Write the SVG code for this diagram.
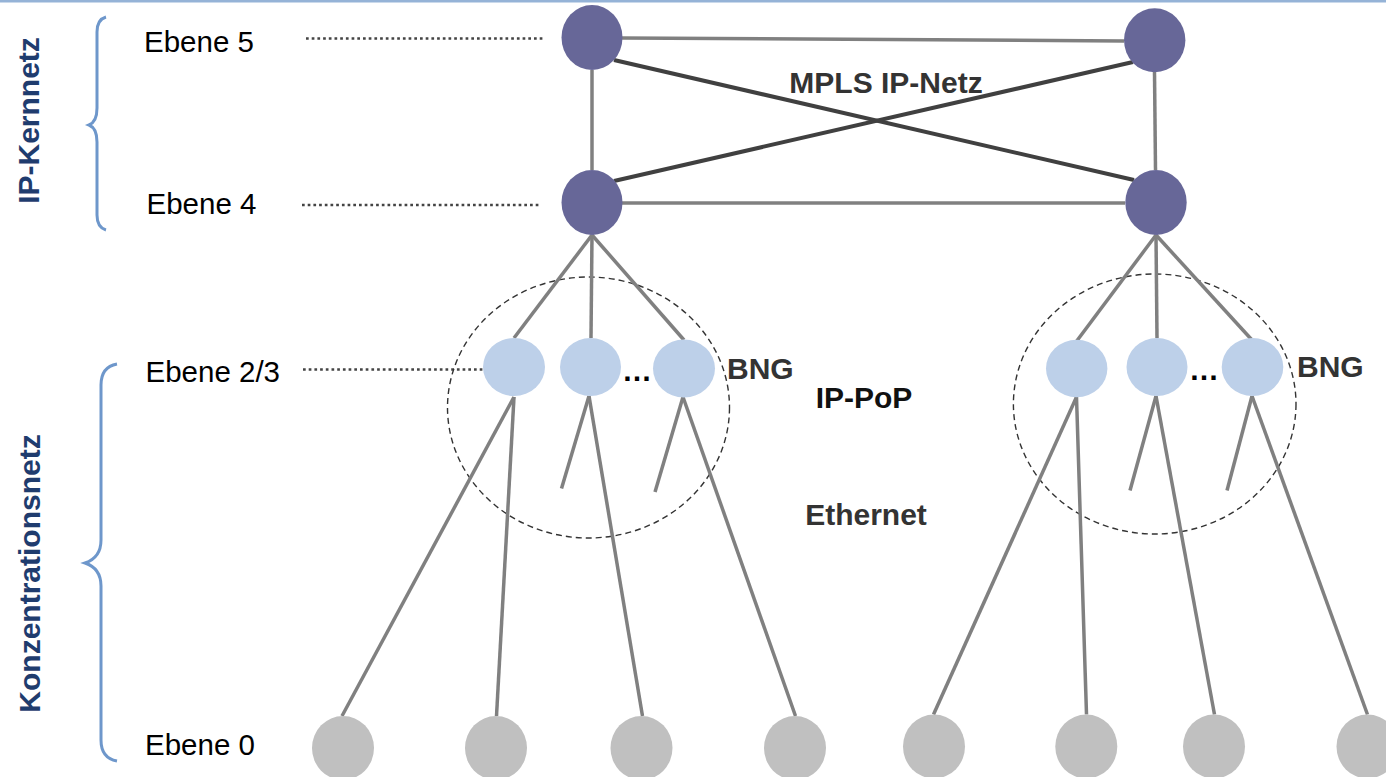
<svg xmlns="http://www.w3.org/2000/svg" width="1386" height="777" viewBox="0 0 1386 777">
  <style>
    .lbl { font-family: "Liberation Sans", Arial, sans-serif; font-size: 29.5px; fill: #000; }
    .bold { font-family: "Liberation Sans", Arial, sans-serif; font-size: 30px; font-weight: bold; fill: #333; }
    .side { font-family: "Liberation Sans", Arial, sans-serif; font-size: 30px; font-weight: bold; fill: #1F3C6E; }
    .brace { fill: none; stroke: #6E97CB; stroke-width: 3; }
    .lead { stroke: #444; stroke-width: 2.5; stroke-dasharray: 2.7 3; }
    .link { stroke: #808080; stroke-width: 3.5; stroke-linecap: butt; }
    .core { stroke: #404040; stroke-width: 4; }
    .pop { fill: none; stroke: #333; stroke-width: 1.4; stroke-dasharray: 6 4; }
    .r5 { fill: #676798; }
    .bng { fill: #BDD0E9; }
    .acc { fill: #C0C0C0; }
  </style>

  <!-- header rule -->
  <rect x="0" y="0" width="1386" height="2.5" fill="#95B3D7"/>

  <!-- layer braces and side labels -->
  <g id="brace-core">
    <path class="brace" d="M106,17 C99,19 97,24 97,32 L97,108 C97,118 94,123 89,125 C94,127 97,132 97,142 L97,215 C97,223 99,228 106,230"/>
    <text class="side" text-anchor="middle" transform="translate(39,120.5) rotate(-90)">IP-Kernnetz</text>
  </g>
  <g id="brace-concentration">
    <path class="brace" d="M117,364 C106,366 101,373 101,385 L101,540 C101,553 94,560 85,563 C94,566 101,573 101,586 L101,740 C101,752 106,759 117,761"/>
    <text class="side" text-anchor="middle" transform="translate(40,573.5) rotate(-90)">Konzentrationsnetz</text>
  </g>

  <!-- layer labels with leader lines -->
  <g id="level-labels">
    <text class="lbl" x="144" y="52">Ebene 5</text>
    <text class="lbl" x="146.5" y="214">Ebene 4</text>
    <text class="lbl" x="145.5" y="382">Ebene 2/3</text>
    <text class="lbl" x="145" y="755">Ebene 0</text>
    <line class="lead" x1="306" y1="38.5" x2="545" y2="38.5"/>
    <line class="lead" x1="302" y1="205" x2="541" y2="205"/>
    <line class="lead" x1="303" y1="369.5" x2="483" y2="369.5"/>
  </g>

  <!-- PoP boundaries -->
  <g id="pop-left"><ellipse class="pop" cx="588.5" cy="407.5" rx="141" ry="130.5"/></g>
  <g id="pop-right"><ellipse class="pop" cx="1154.7" cy="404" rx="141.3" ry="130"/></g>

  <!-- connectors -->
  <g id="connectors">
    <!-- core mesh -->
    <line class="link" x1="622" y1="38" x2="1124" y2="41"/>
    <line class="link" x1="622" y1="203" x2="1125" y2="203"/>
    <line class="link" x1="592" y1="70" x2="592" y2="170"/>
    <line class="link" x1="1154.5" y1="72" x2="1155.5" y2="170"/>
    <line class="core" x1="614" y1="60" x2="1134" y2="180"/>
    <line class="core" x1="614" y1="181" x2="1133" y2="62"/>
    <!-- core to BNG, left -->
    <line class="link" x1="592" y1="235" x2="514" y2="338"/>
    <line class="link" x1="592" y1="235" x2="591" y2="338"/>
    <line class="link" x1="592" y1="235" x2="684" y2="340"/>
    <!-- core to BNG, right -->
    <line class="link" x1="1156" y1="235" x2="1076" y2="342"/>
    <line class="link" x1="1156" y1="235" x2="1157" y2="338"/>
    <line class="link" x1="1156" y1="235" x2="1252" y2="340"/>
    <!-- BNG to access, left -->
    <line class="link" x1="514" y1="397" x2="342" y2="716"/>
    <line class="link" x1="514" y1="397" x2="496.5" y2="716"/>
    <line class="link" x1="589" y1="396" x2="561.5" y2="488.5"/>
    <line class="link" x1="589" y1="396" x2="642.5" y2="716"/>
    <line class="link" x1="683" y1="397" x2="655" y2="492"/>
    <line class="link" x1="683" y1="397" x2="795.5" y2="716"/>
    <!-- BNG to access, right -->
    <line class="link" x1="1076.5" y1="397" x2="933.5" y2="714.5"/>
    <line class="link" x1="1076.5" y1="397" x2="1086.5" y2="714.5"/>
    <line class="link" x1="1156" y1="396" x2="1130" y2="490.5"/>
    <line class="link" x1="1156" y1="396" x2="1214.5" y2="714.5"/>
    <line class="link" x1="1252" y1="396" x2="1227" y2="490.5"/>
    <line class="link" x1="1252" y1="396" x2="1367.5" y2="714.5"/>
  </g>

  <!-- level 5 / level 4 routers -->
  <g id="core-l5-a"><ellipse class="r5" cx="592" cy="37.5" rx="30.5" ry="32.5"/></g>
  <g id="core-l5-b"><ellipse class="r5" cx="1154.7" cy="40.3" rx="30.7" ry="32"/></g>
  <g id="core-l4-a"><ellipse class="r5" cx="592" cy="202.5" rx="30.5" ry="32.5"/></g>
  <g id="core-l4-b"><ellipse class="r5" cx="1156" cy="202.5" rx="30.7" ry="32.5"/></g>
  <g id="mpls-label"><text class="bold" x="886" y="93" text-anchor="middle">MPLS IP-Netz</text></g>

  <!-- BNGs, left PoP -->
  <g id="bng-l1"><ellipse class="bng" cx="514" cy="367" rx="31" ry="29"/></g>
  <g id="bng-l2"><ellipse class="bng" cx="590.5" cy="367" rx="30.5" ry="29"/></g>
  <g id="bng-l3"><ellipse class="bng" cx="684" cy="368.5" rx="31" ry="29"/></g>
  <text class="bold" x="622" y="381" style="fill:#000">…</text>
  <text class="bold" x="727" y="379">BNG</text>

  <!-- BNGs, right PoP -->
  <g id="bng-r1"><ellipse class="bng" cx="1076.7" cy="368.5" rx="30.7" ry="28.7"/></g>
  <g id="bng-r2"><ellipse class="bng" cx="1157" cy="367" rx="30.5" ry="29"/></g>
  <g id="bng-r3"><ellipse class="bng" cx="1252.5" cy="367" rx="30.8" ry="29"/></g>
  <text class="bold" x="1189" y="380" style="fill:#000">…</text>
  <text class="bold" x="1297" y="377">BNG</text>

  <g id="pop-labels">
    <text class="bold" x="864" y="408" text-anchor="middle" style="fill:#111">IP-PoP</text>
    <text class="bold" x="866" y="525" text-anchor="middle">Ethernet</text>
  </g>

  <!-- level 0 access nodes -->
  <g id="acc-1"><ellipse class="acc" cx="343" cy="748" rx="31" ry="32"/></g>
  <g id="acc-2"><ellipse class="acc" cx="496" cy="748" rx="31" ry="32"/></g>
  <g id="acc-3"><ellipse class="acc" cx="641.5" cy="748" rx="31" ry="32"/></g>
  <g id="acc-4"><ellipse class="acc" cx="795" cy="748" rx="31" ry="32"/></g>
  <g id="acc-5"><ellipse class="acc" cx="934" cy="746.5" rx="31" ry="32"/></g>
  <g id="acc-6"><ellipse class="acc" cx="1086.3" cy="746.5" rx="31" ry="32"/></g>
  <g id="acc-7"><ellipse class="acc" cx="1214" cy="746.5" rx="31" ry="32"/></g>
  <g id="acc-8"><ellipse class="acc" cx="1367.5" cy="746.5" rx="31" ry="32"/></g>
</svg>
